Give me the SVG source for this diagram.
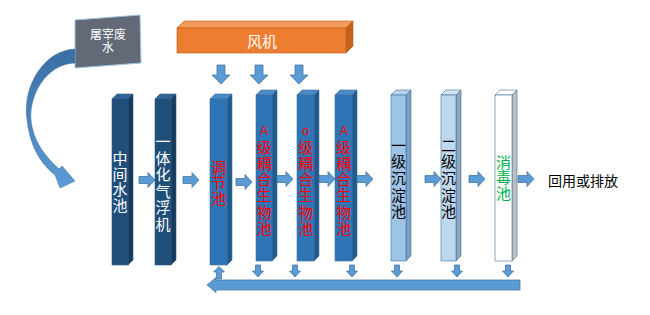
<svg xmlns="http://www.w3.org/2000/svg" width="650" height="315" viewBox="0 0 650 315">
<defs>
<style>
text{font-family:"Liberation Sans","Noto Sans CJK SC",sans-serif;}
.v{font-size:15px;text-anchor:middle;}
.w{fill:#FFFFFF;}
.r{fill:#FF0000;}
.k{fill:#000000;}
.g{fill:#00B050;}
.arr{fill:#5B9BD5;stroke:#41719C;stroke-width:0.75;}
.dk .f{fill:#1F4E79;} .dk .t{fill:#2F6395;} .dk .s{fill:#163A5C;}
.md .f{fill:#2E75B6;} .md .t{fill:#4A8BC7;} .md .s{fill:#1F5A8F;}
.lt .f{fill:#9DC3E6;} .lt .t{fill:#B9D5EE;} .lt .s{fill:#7A9FC2;}
.pl .f{fill:#BDD7EE;} .pl .t{fill:#D6E6F4;} .pl .s{fill:#8EA6BE;}
.wh .f{fill:#FFFFFF;} .wh .t{fill:#FFFFFF;} .wh .s{fill:#BFBFBF;}
.box polygon,.box rect{stroke:#41719C;stroke-width:0.6;}
.dk polygon,.dk rect{stroke:#2E5C88;}
</style>
<linearGradient id="cg" x1="0" y1="0" x2="0" y2="1">
<stop offset="0" stop-color="#3A6EA5"/>
<stop offset="1" stop-color="#5B9BD5"/>
</linearGradient>
</defs>
<rect width="650" height="315" fill="#FFFFFF"/>

<g id="source">
<polygon points="75,20 140,15 141,63 75,68" fill="#636A77" stroke="#9DC3E6" stroke-width="1"/>
<text x="108" y="39" font-size="12" text-anchor="middle" class="w">屠宰废</text>
<text x="108" y="52" font-size="12" text-anchor="middle" class="w">水</text>
</g>

<g id="blower">
<polygon points="177,28 184,21 353,21 346,28" fill="#F19C5E" stroke="#C55A11" stroke-width="0.6"/>
<polygon points="346,28 353,21 353,46 346,53" fill="#C2621E" stroke="#C55A11" stroke-width="0.6"/>
<rect x="177" y="28" width="169" height="25" fill="#ED7D31" stroke="#C55A11" stroke-width="0.6"/>
<text x="262" y="47" font-size="15" text-anchor="middle" class="w">风机</text>
</g>

<g id="n1" class="box dk">
<polygon class="t" points="112,99 117,94 133,94 128,99"/>
<polygon class="s" points="128,99 133,94 133,260 128,265"/>
<rect class="f" x="112" y="99" width="16" height="166"/>
<text class="v w" x="120"><tspan x="120" y="164">中</tspan><tspan x="120" y="179.5">间</tspan><tspan x="120" y="195">水</tspan><tspan x="120" y="210.5">池</tspan></text>
</g>

<g id="n2" class="box dk">
<polygon class="t" points="155,99 160,94 176,94 171,99"/>
<polygon class="s" points="171,99 176,94 176,260 171,265"/>
<rect class="f" x="155" y="99" width="16" height="166"/>
<text class="v w"><tspan x="163" y="147">一</tspan><tspan x="163" y="163.5">体</tspan><tspan x="163" y="180">化</tspan><tspan x="163" y="196.5">气</tspan><tspan x="163" y="213">浮</tspan><tspan x="163" y="229.5">机</tspan></text>
</g>

<g id="n3" class="box md">
<polygon class="t" points="210,99 215,94 232,94 227,99"/>
<polygon class="s" points="227,99 232,94 232,260 227,265"/>
<rect class="f" x="210" y="99" width="17" height="166"/>
<text class="v r"><tspan x="218.5" y="172.5">调</tspan><tspan x="218.5" y="188">节</tspan><tspan x="218.5" y="203.5">池</tspan></text>
</g>

<g id="n4" class="box md">
<polygon class="t" points="256,95 261,90 277,90 272,95"/>
<polygon class="s" points="272,95 277,90 277,256 272,261"/>
<rect class="f" x="256" y="95" width="16" height="166"/>
<text class="v r"><tspan x="264" y="135" font-size="13">A</tspan><tspan x="264" y="152.5">级</tspan><tspan x="264" y="168.8">耦</tspan><tspan x="264" y="185">合</tspan><tspan x="264" y="201.3">生</tspan><tspan x="264" y="217.6">物</tspan><tspan x="264" y="234">池</tspan></text>
</g>

<g id="n5" class="box md">
<polygon class="t" points="297,95 302,90 319,90 314,95"/>
<polygon class="s" points="314,95 319,90 319,256 314,261"/>
<rect class="f" x="297" y="95" width="17" height="166"/>
<text class="v r"><tspan x="305.5" y="135" font-size="13">o</tspan><tspan x="305.5" y="152.5">级</tspan><tspan x="305.5" y="168.8">耦</tspan><tspan x="305.5" y="185">合</tspan><tspan x="305.5" y="201.3">生</tspan><tspan x="305.5" y="217.6">物</tspan><tspan x="305.5" y="234">池</tspan></text>
</g>

<g id="n6" class="box md">
<polygon class="t" points="335,95 340,90 357,90 352,95"/>
<polygon class="s" points="352,95 357,90 357,256 352,261"/>
<rect class="f" x="335" y="95" width="17" height="166"/>
<text class="v r"><tspan x="343.5" y="135" font-size="13">A</tspan><tspan x="343.5" y="152.5">级</tspan><tspan x="343.5" y="168.8">耦</tspan><tspan x="343.5" y="185">合</tspan><tspan x="343.5" y="201.3">生</tspan><tspan x="343.5" y="217.6">物</tspan><tspan x="343.5" y="234">池</tspan></text>
</g>

<g id="n7" class="box lt">
<polygon class="t" points="391,95 396,90 411,90 406,95"/>
<polygon class="s" points="406,95 411,90 411,256 406,261"/>
<rect class="f" x="391" y="95" width="15" height="166"/>
<text class="v k"><tspan x="398.5" y="150.5">一</tspan><tspan x="398.5" y="167.2">级</tspan><tspan x="398.5" y="183.9">沉</tspan><tspan x="398.5" y="200.6">淀</tspan><tspan x="398.5" y="217.3">池</tspan></text>
</g>

<g id="n8" class="box pl">
<polygon class="t" points="441,95 446,90 461,90 456,95"/>
<polygon class="s" points="456,95 461,90 461,256 456,261"/>
<rect class="f" x="441" y="95" width="15" height="166"/>
<text class="v k"><tspan x="448.5" y="150.5">二</tspan><tspan x="448.5" y="167.2">级</tspan><tspan x="448.5" y="183.9">沉</tspan><tspan x="448.5" y="200.6">淀</tspan><tspan x="448.5" y="217.3">池</tspan></text>
</g>

<g id="n9" class="box wh">
<polygon class="t" points="495,95 500,90 517,90 512,95"/>
<polygon class="s" points="512,95 517,90 517,256 512,261"/>
<rect class="f" x="495" y="95" width="17" height="166"/>
<text class="v g"><tspan x="503.5" y="167.5">消</tspan><tspan x="503.5" y="183">毒</tspan><tspan x="503.5" y="198.5">池</tspan></text>
</g>

<g id="out">
<text x="548" y="186" font-size="14" class="k">回用或排放</text>
</g>

<g id="connectors">
<path d="M75,49 C45,50 22,85 27,120 C30,146 40,163 55,175 L60,188 L75,181 L62,166 L59,169 C45,156 33,141 31,120 C29,95 46,64 75,63 Z" fill="url(#cg)" stroke="#41719C" stroke-width="0.5"/>
<g class="arr">
<path d="M139,176.5 H148 V172.5 L155,180 L148,187.5 V183.5 H139 Z"/>
<path d="M183,176.5 H192 V172.5 L199,180 L192,187.5 V183.5 H183 Z"/>
<path d="M236,178.5 H245 V174.5 L252,182 L245,189.5 V185.5 H236 Z"/>
<path d="M277,175.5 H286 V171.5 L293,179 L286,186.5 V182.5 H277 Z"/>
<path d="M319,175.5 H328 V171.5 L335,179 L328,186.5 V182.5 H319 Z"/>
<path d="M357,175.5 H366 V171.5 L373,179 L366,186.5 V182.5 H357 Z"/>
<path d="M425,175.5 H434 V171.5 L441,179 L434,186.5 V182.5 H425 Z"/>
<path d="M469,175.5 H478 V171.5 L485,179 L478,186.5 V182.5 H469 Z"/>
<path d="M518,175.5 H527 V171.5 L534,179 L527,186.5 V182.5 H518 Z"/>
<path d="M217,65 H225 V75 H230 L221,84 L212,75 H217 Z"/>
<path d="M255,65 H263 V75 H268 L259,84 L250,75 H255 Z"/>
<path d="M295,65 H303 V75 H308 L299,84 L290,75 H295 Z"/>
<path d="M216.5,279 V272 H213.5 L219,266.5 L224.5,272 H221.5 V279 Z"/>
<path d="M255.5,265 H260.5 V271 H263.5 L258,277 L252.5,271 H255.5 Z"/>
<path d="M292.5,265 H297.5 V271 H300.5 L295,277 L289.5,271 H292.5 Z"/>
<path d="M349.5,265 H354.5 V271 H357.5 L352,277 L346.5,271 H349.5 Z"/>
<path d="M394.5,265 H399.5 V271 H402.5 L397,277 L391.5,271 H394.5 Z"/>
<path d="M454.5,265 H459.5 V271 H462.5 L457,277 L451.5,271 H454.5 Z"/>
<path d="M505.5,265 H510.5 V271 H513.5 L508,277 L502.5,271 H505.5 Z"/>
<path d="M520,280 H216 V277.5 L207,285 L216,292.5 V290 H520 Z"/>
</g>
</g>
</svg>
